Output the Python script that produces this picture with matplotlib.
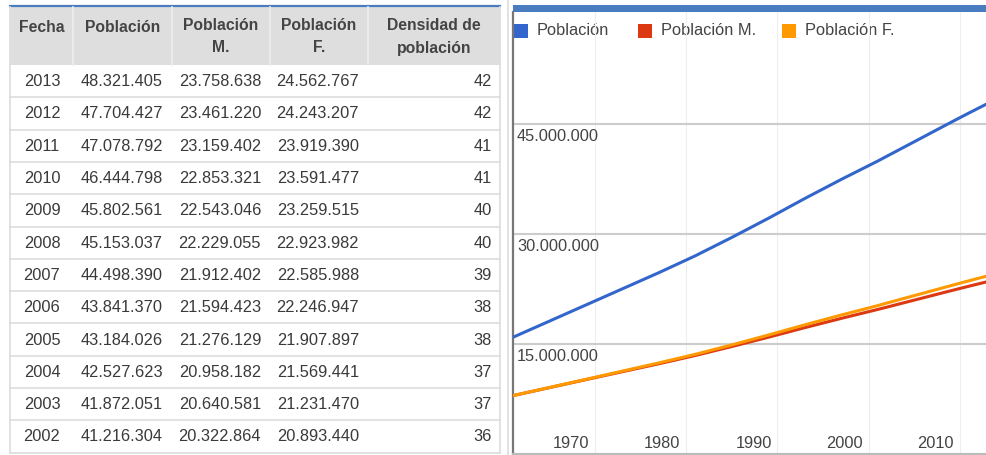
import matplotlib
matplotlib.use("Agg")
import matplotlib.pyplot as plt
from matplotlib.patches import Rectangle

plt.rcParams['font.family'] = ['Liberation Sans', 'DejaVu Sans']

# ── Table data (2013 -> 2002) ───────────────────────────────────────────────
fecha = [2013, 2012, 2011, 2010, 2009, 2008, 2007, 2006, 2005, 2004, 2003, 2002]
poblacion = [48321405, 47704427, 47078792, 46444798, 45802561, 45153037,
             44498390, 43841370, 43184026, 42527623, 41872051, 41216304]
poblacion_m = [23758638, 23461220, 23159402, 22853321, 22543046, 22229055,
               21912402, 21594423, 21276129, 20958182, 20640581, 20322864]
poblacion_f = [24562767, 24243207, 23919390, 23591477, 23259515, 22923982,
               22585988, 22246947, 21907897, 21569441, 21231470, 20893440]
densidad = [42, 42, 41, 41, 40, 40, 39, 38, 38, 37, 37, 36]

headers = [["Fecha"], ["Población"], ["Población", "M."], ["Población", "F."],
           ["Densidad de", "población"]]

# ── Earlier years (millions) ────────────────────────────────────────────────
years_early = [1960, 1964, 1968, 1972, 1976, 1980, 1984, 1988, 1992, 1996, 2000, 2001]
pob_early = [15.90, 18.10, 20.30, 22.50, 24.70, 27.00, 29.50, 32.10, 34.80, 37.40, 39.90, 40.56]
pob_m_early = [7.95, 9.04, 10.13, 11.21, 12.29, 13.42, 14.64, 15.90, 17.21, 18.47, 19.69, 20.00]
pob_f_early = [7.95, 9.06, 10.17, 11.29, 12.41, 13.58, 14.86, 16.20, 17.59, 18.93, 20.21, 20.56]

y_ticks = [15000000, 30000000, 45000000]
grid_years = [1969, 1979, 1989, 1999, 2009]
x_labels = ["1970", "1980", "1990", "2000", "2010"]
series_names = ["Población", "Población M.", "Población F."]
colors = ["#3366cc", "#dc3912", "#ff9900"]


def fmt(v):
    return f"{v:,}".replace(",", ".")


W, H = 987, 455
fig = plt.figure(figsize=(W / 100, H / 100), dpi=100)

# ── Overlay in pixel coordinates (table + legend) ──────────────────────────
ov = fig.add_axes([0, 0, 1, 1])
ov.set_xlim(0, W)
ov.set_ylim(H, 0)
ov.axis("off")

tl, tr = 10, 500
head_top, head_bot = 7, 65
row_h = 32.3
txt_col = "#3a3a3a"
fs = 11.8

ov.add_patch(Rectangle((tl, head_top), tr - tl, head_bot - head_top, facecolor="#dedede",
                       edgecolor="none"))
ov.plot([tl, tr], [5.5, 5.5], color="#4a7dc0", lw=1.6)
for sx in [73, 172, 270, 368]:
    ov.plot([sx, sx], [head_top, head_bot], color="#eeeeee", lw=1.2)

head_cx = [42, 123, 221, 319, 434]
for cx, h in zip(head_cx, headers):
    if len(h) == 1:
        ov.text(cx, 27, h[0], ha="center", va="center", fontsize=11.3,
                fontweight="bold", color="#444444")
    else:
        ov.text(cx, 25, h[0], ha="center", va="center", fontsize=11.3,
                fontweight="bold", color="#444444")
        ov.text(cx, 48, h[1], ha="center", va="center", fontsize=11.3,
                fontweight="bold", color="#444444")

for i in range(len(fecha)):
    top = head_bot + i * row_h
    cy = top + row_h / 2 + 0.5
    ov.plot([tl, tr], [top + row_h, top + row_h], color="#dddddd", lw=1.2)
    ov.text(42, cy, str(fecha[i]), ha="center", va="center", fontsize=fs, color=txt_col)
    ov.text(163, cy, fmt(poblacion[i]), ha="right", va="center", fontsize=fs, color=txt_col)
    ov.text(261, cy, fmt(poblacion_m[i]), ha="right", va="center", fontsize=fs, color=txt_col)
    ov.text(359, cy, fmt(poblacion_f[i]), ha="right", va="center", fontsize=fs, color=txt_col)
    ov.text(492, cy, str(densidad[i]), ha="right", va="center", fontsize=fs, color=txt_col)

ov.plot([tl, tl], [head_top, head_bot + 12 * row_h], color="#dddddd", lw=1.2)
ov.plot([tr, tr], [head_top, head_bot + 12 * row_h], color="#dddddd", lw=1.2)
ov.plot([508, 508], [0, H], color="#dddddd", lw=1.2)

# chart top bar
ov.add_patch(Rectangle((513, 5), W - 513, 7, facecolor="#4a7dc0", edgecolor="none"))

# legend
leg_x = [514, 638, 782]
for lx, name, c in zip(leg_x, series_names, colors):
    ov.add_patch(Rectangle((lx, 23.5), 14, 14, facecolor=c, edgecolor="none"))
    ov.text(lx + 23, 30.5, name, ha="left", va="center", fontsize=fs, color="#444444")

# ── Line chart ─────────────────────────────────────────────────────────────
ax_l, ax_r, ax_t, ax_b = 513, W, 12, 454
ax = fig.add_axes([ax_l / W, (H - ax_b) / H, (ax_r - ax_l) / W, (ax_b - ax_t) / H])
ax.patch.set_alpha(0)

years_tab = fecha[::-1]
x_all = years_early + years_tab
tot = [v * 1e6 for v in pob_early] + poblacion[::-1]
mas = [v * 1e6 for v in pob_m_early] + poblacion_m[::-1]
fem = [v * 1e6 for v in pob_f_early] + poblacion_f[::-1]

ax.plot(x_all, tot, color=colors[0], lw=2.2, solid_capstyle="round", zorder=3)
ax.plot(x_all, mas, color=colors[1], lw=2.2, solid_capstyle="round", zorder=3)
ax.plot(x_all, fem, color=colors[2], lw=2.2, solid_capstyle="round", zorder=4)

ax.set_xlim(1960, 1960 + (ax_r - ax_l - 1) / 9.1)
ax.set_ylim(0, 60.2e6)

ax.set_xticks(grid_years)
ax.set_yticks(y_ticks)
ax.tick_params(length=0, labelbottom=False, labelleft=False)
ax.grid(axis="x", color="#eeeeee", lw=0.8, zorder=0)
ax.grid(axis="y", color="#cccccc", lw=1.5, zorder=0)

for s in ["top", "right"]:
    ax.spines[s].set_visible(False)
ax.spines["left"].set_color("#777777")
ax.spines["left"].set_linewidth(1.6)
ax.spines["bottom"].set_color("#bbbbbb")
ax.spines["bottom"].set_linewidth(1.5)

for v in y_ticks:
    ax.annotate(fmt(v), xy=(0, v), xycoords=("axes fraction", "data"),
                xytext=(4, -13), textcoords="offset pixels", ha="left", va="center",
                fontsize=fs, color="#444444")

for gx, lab in zip(grid_years, x_labels):
    ax.annotate(lab, xy=(gx, 0), xycoords=("data", "axes fraction"),
                xytext=(-24, 11), textcoords="offset pixels", ha="center", va="center",
                fontsize=fs, color="#444444")

fig.savefig("out.png", dpi=100)
